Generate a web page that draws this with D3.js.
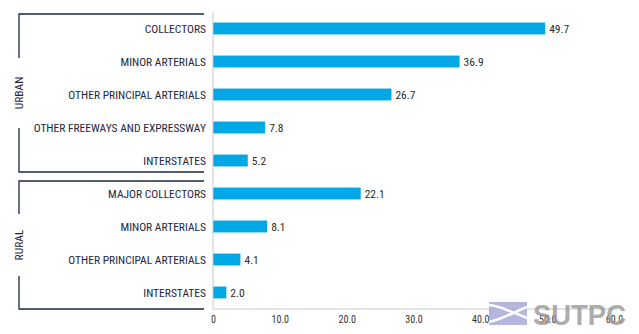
<!DOCTYPE html>
<html><head><meta charset="utf-8">
<script src="https://cdn.jsdelivr.net/npm/d3@7"></script>
<style>body{margin:0;background:#fff}svg{display:block}</style>
</head><body><svg id="c" width="639" height="334"></svg>
<script>
const categories = ["COLLECTORS","MINOR ARTERIALS","OTHER PRINCIPAL ARTERIALS","OTHER FREEWAYS AND EXPRESSWAY","INTERSTATES","MAJOR COLLECTORS","MINOR ARTERIALS","OTHER PRINCIPAL ARTERIALS","INTERSTATES"];
const values = [49.7,36.9,26.7,7.8,5.2,22.1,8.1,4.1,2.0];
const valueLabels = ["49.7","36.9","26.7","7.8","5.2","22.1","8.1","4.1","2.0"];
const groups = ["URBAN","URBAN","URBAN","URBAN","URBAN","RURAL","RURAL","RURAL","RURAL"];
const groupNames = ["URBAN","RURAL"];
const tickValues = [0,10,20,30,40,50,60];
const tickLabels = ["0","10.0","20.0","30.0","40.0","50.0","60.0"];

const svg = d3.select("#c");
const font = "'Liberation Sans Narrow','Roboto Condensed','Liberation Sans',Arial,sans-serif";
const x = d3.scaleLinear().domain([0,60]).range([213,614]);
const y = d3.scaleBand().domain(d3.range(values.length)).range([12,309]).paddingInner(0.64).paddingOuter(0.32);

// bars
svg.selectAll("rect.bar").data(values).join("rect")
  .attr("x", x(0)).attr("y",(d,i)=>y(i)).attr("width",d=>x(d)-x(0)).attr("height",y.bandwidth())
  .attr("fill","#00a8e5");
// value labels
svg.selectAll("text.val").data(values).join("text")
  .attr("x",d=>x(d)+4).attr("y",(d,i)=>y(i)+y.bandwidth()/2).attr("dy","0.35em")
  .attr("font-family",font).attr("font-size",11.5).attr("fill","#2b2b2b").text((d,i)=>valueLabels[i]);
// category labels
svg.selectAll("text.cat").data(categories).join("text")
  .attr("x",206).attr("y",(d,i)=>y(i)+y.bandwidth()/2).attr("dy","0.35em").attr("text-anchor","end")
  .attr("font-family",font).attr("font-size",11.5).attr("fill","#1d2742").text(d=>d);

// axes lines
svg.append("line").attr("x1",x(0)).attr("x2",x(0)).attr("y1",12).attr("y2",309).attr("stroke","#c8c8c8");
svg.append("line").attr("x1",x(0)).attr("x2",x(60)+4).attr("y1",309).attr("y2",309).attr("stroke","#c8c8c8");
const ax = d3.axisBottom(x).tickValues(tickValues).tickFormat((d,i)=>tickLabels[i]).tickSize(0).tickPadding(7);
const g = svg.append("g").attr("transform","translate(0,309)").call(ax);
g.select(".domain").remove();
g.selectAll("text").attr("font-family",font).attr("font-size",10).attr("fill","#333");

// group brackets
const groupBounds = {URBAN:[14,172], RURAL:[181,309]};
groupNames.forEach(name=>{
  const [t,b] = groupBounds[name];
  const mid = (t+b)/2;
  const half = name==="URBAN"?35:31;
  const bx = 19, ex = 204;
  const gg = svg.append("g").attr("stroke","#1d2742").attr("stroke-width",1.3).attr("fill","none");
  gg.append("path").attr("d",`M${ex},${t}H${bx}V${mid-half}`);
  gg.append("path").attr("d",`M${bx},${mid+half}V${b}H${ex}`);
  svg.append("text").attr("transform",`translate(${bx+4},${mid}) rotate(-90)`).attr("text-anchor","middle")
    .attr("font-family",font).attr("font-size",11.5).attr("fill","#1d2742").text(name);
});

// watermark
const lg = svg.append("g").attr("opacity",0.85);
lg.append("rect").attr("x",489).attr("y",302).attr("width",38).attr("height",23).attr("fill","#a7aad8");
lg.append("path").attr("d","M489,305 C500,306 512,312 527,318 M489,322 C500,320 512,313 527,307").attr("stroke","#fff").attr("stroke-width",2.5).attr("fill","none");
svg.append("text").attr("x",533).attr("y",325).attr("font-family","'Liberation Sans',Arial,sans-serif")
  .attr("font-weight","bold").attr("font-size",29).attr("textLength",93).attr("lengthAdjust","spacingAndGlyphs")
  .attr("fill","#999").attr("opacity",0.8).text("SUTPC");
</script></body></html>
